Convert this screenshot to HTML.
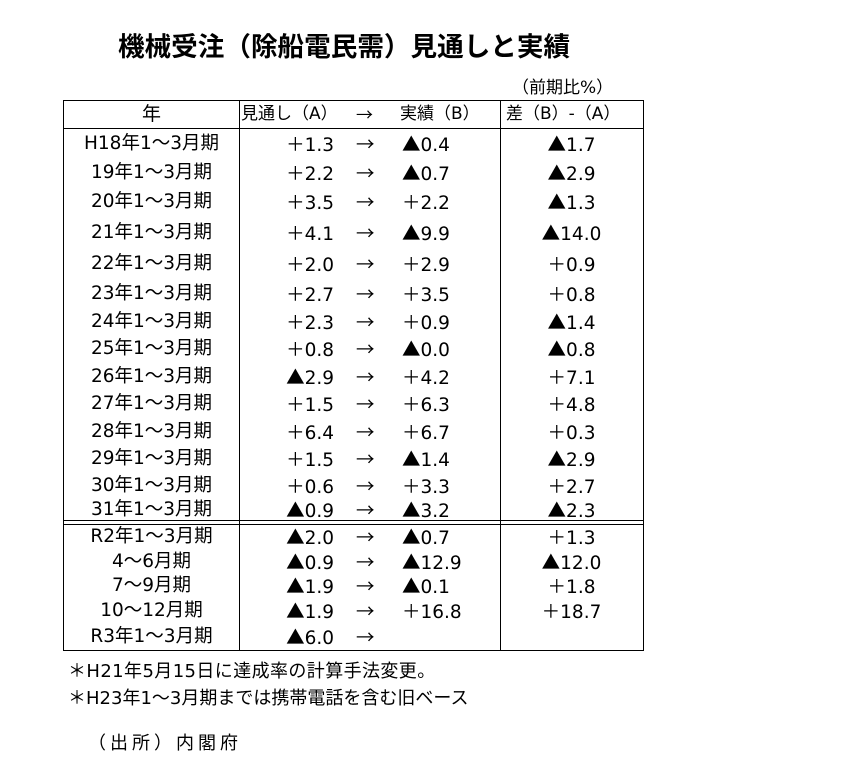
<!DOCTYPE html>
<html><head><meta charset="utf-8"><style>
body{margin:0;width:844px;height:784px;background:#fff;font-family:"DejaVu Sans","Noto Sans CJK JP",sans-serif;color:#000;position:relative;overflow:hidden}
.t{position:absolute;white-space:nowrap;font-size:18.5px;line-height:20px}
.j{font-family:"Noto Sans CJK JP",sans-serif}
.l{position:absolute;background:#000}
.y{left:63px;width:177px;text-align:center}
.a{left:240px;width:94px;text-align:right}
.ar{left:356px}
.b{left:402px}
.d{left:500px;width:143px;text-align:center}
</style></head><body>
<div class="t j" style="left:118px;top:30px;font-size:26.6px;line-height:30px;font-weight:bold">機械受注（除船電民需）見通しと実績</div>
<div class="t" style="left:512px;top:78px;font-size:17px">（前期比%）</div>
<div class="l" style="left:63px;top:100px;width:581px;height:1px"></div>
<div class="l" style="left:63px;top:128px;width:581px;height:1px"></div>
<div class="l" style="left:63px;top:520px;width:581px;height:1px"></div>
<div class="l" style="left:63px;top:524px;width:581px;height:1px"></div>
<div class="l" style="left:63px;top:650px;width:581px;height:1px"></div>
<div class="l" style="left:63px;top:100px;width:1px;height:551px"></div>
<div class="l" style="left:643px;top:100px;width:1px;height:551px"></div>
<div class="l" style="left:239px;top:100px;width:1px;height:551px"></div>
<div class="l" style="left:500px;top:100px;width:1px;height:551px"></div>
<div class="t y" style="top:104px;font-size:19px">年</div>
<div class="t" style="left:241px;top:104px;font-size:17px">見通し（A）</div>
<div class="t j" style="left:356px;top:104px;font-size:17px">→</div>
<div class="t" style="left:400px;top:104px;font-size:17px">実績（B）</div>
<div class="t" style="left:506px;top:104px;font-size:17px">差（B）-（A）</div>
<div id="rows"></div>
<div class="t" style="left:68px;top:662px;font-size:18px;letter-spacing:0.4px">＊H21年5月15日に達成率の計算手法変更。</div>
<div class="t" style="left:68px;top:689px;font-size:18px">＊H23年1～3月期までは携帯電話を含む旧ベース</div>
<div class="t" style="left:88px;top:734px;font-size:18px;letter-spacing:4px">（出所）内閣府</div>
<script>
var r=[[143,"H18年1～3月期","+1.3","▲0.4","▲1.7"],[172,"19年1～3月期","+2.2","▲0.7","▲2.9"],[201,"20年1～3月期","+3.5","+2.2","▲1.3"],[232,"21年1～3月期","+4.1","▲9.9","▲14.0"],[263,"22年1～3月期","+2.0","+2.9","+0.9"],[293,"23年1～3月期","+2.7","+3.5","+0.8"],[321,"24年1～3月期","+2.3","+0.9","▲1.4"],[348,"25年1～3月期","+0.8","▲0.0","▲0.8"],[376,"26年1～3月期","▲2.9","+4.2","+7.1"],[403,"27年1～3月期","+1.5","+6.3","+4.8"],[431,"28年1～3月期","+6.4","+6.7","+0.3"],[458,"29年1～3月期","+1.5","▲1.4","▲2.9"],[485,"30年1～3月期","+0.6","+3.3","+2.7"],[509,"31年1～3月期","▲0.9","▲3.2","▲2.3"],[536,"R2年1～3月期","▲2.0","▲0.7","+1.3"],[561,"4～6月期","▲0.9","▲12.9","▲12.0"],[585,"7～9月期","▲1.9","▲0.1","+1.8"],[610,"10～12月期","▲1.9","+16.8","+18.7"],[636,"R3年1～3月期","▲6.0","",""]];
function f(s){return s.replace('+','<span class="j">＋</span>').replace('▲','<span class="j">▲</span>');}
var h="";r.forEach(function(x){var t=x[0]-9;h+='<div class="t y" style="top:'+t+'px">'+x[1]+'</div><div class="t a" style="top:'+t+'px">'+f(x[2])+'</div><div class="t ar j" style="top:'+t+'px">→</div><div class="t b" style="top:'+t+'px">'+f(x[3])+'</div><div class="t d" style="top:'+t+'px">'+f(x[4])+'</div>';});
document.getElementById("rows").innerHTML=h;
</script>
</body></html>
